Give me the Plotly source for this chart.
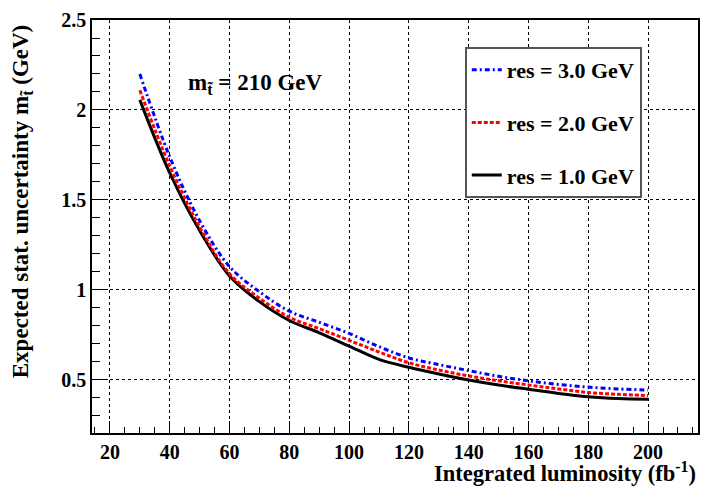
import plotly.graph_objects as go

lumi = [30, 40, 50, 60, 70, 80, 90, 100, 110, 120, 130, 140, 150, 160, 170, 180, 190, 200]
res1 = [2.056, 1.650, 1.330, 1.078, 0.935, 0.830, 0.762, 0.688, 0.614, 0.570, 0.533, 0.500, 0.472, 0.448, 0.425, 0.407, 0.397, 0.393]
res2 = [2.110, 1.690, 1.350, 1.090, 0.954, 0.848, 0.785, 0.720, 0.655, 0.595, 0.555, 0.522, 0.495, 0.472, 0.450, 0.430, 0.420, 0.413]
res3 = [2.200, 1.740, 1.385, 1.130, 0.990, 0.882, 0.820, 0.758, 0.685, 0.622, 0.585, 0.552, 0.520, 0.495, 0.475, 0.460, 0.450, 0.444]
labels = ["res = 1.0 GeV", "res = 2.0 GeV", "res = 3.0 GeV"]
xticks = [20, 40, 60, 80, 100, 120, 140, 160, 180, 200]
yticks = [0.5, 1, 1.5, 2, 2.5]
xticklabels = ["20", "40", "60", "80", "100", "120", "140", "160", "180", "200"]
yticklabels = ["0.5", "1", "1.5", "2", "2.5"]

W, H = 701, 486
L, R, T, B = 92, 1, 20, 53
PW, PH = W - L - R, H - T - B
def px(x): return (x - L) / PW
def py(y): return (H - B - y) / PH

FONT = "Liberation Serif"
fig = go.Figure()
styles = [
    dict(color="black", width=3, dash="solid"),
    dict(color="red", width=3, dash="4px,2px"),
    dict(color="blue", width=3, dash="5px,3px,2px,3px"),
]
for i, (vals, lab, st) in enumerate(zip([res1, res2, res3], labels, styles)):
    fig.add_trace(go.Scatter(x=lumi, y=vals, mode="lines", name="<b>" + lab + "</b>", line=st,
                             legendgroup=lab, legendrank=3 - i, line_shape="spline"))

fig.update_layout(
    width=W, height=H, margin=dict(l=L, r=R, t=T, b=B),
    plot_bgcolor="white", paper_bgcolor="white",
    font=dict(family=FONT, size=19, color="black"),
    showlegend=True,
    legend=dict(x=px(466), y=py(47), xanchor="left", yanchor="top",
                bgcolor="white", bordercolor="#555", borderwidth=2,
                font=dict(family=FONT, size=22, color="black"),
                tracegroupgap=21, traceorder="grouped", itemwidth=30),
)
axis_common = dict(showline=True, linecolor="black", linewidth=1.5, mirror=True,
                   showgrid=True, gridcolor="black", gridwidth=1, griddash="dot",
                   ticks="inside", tickcolor="black", zeroline=False,
                   tickfont=dict(family=FONT, size=20, color="black", weight=700))
fig.update_xaxes(range=[14, 216.7], tickvals=xticks, ticktext=["<b>%s</b>" % t for t in xticklabels],
                 ticklen=12, tickwidth=1.2, ticklabelstandoff=0,
                 minor=dict(dtick=5, tick0=0, ticks="inside", ticklen=6, tickcolor="black", showgrid=False),
                 **axis_common)
fig.update_yaxes(range=[0.205, 2.5], tickvals=yticks, ticktext=["<b>%s</b>" % t for t in yticklabels],
                 ticklen=16, tickwidth=1.2,
                 minor=dict(dtick=0.1, tick0=0, ticks="inside", ticklen=8, tickcolor="black", showgrid=False),
                 **axis_common)

fig.add_annotation(xref="paper", yref="paper", x=1.0, y=py(456), xanchor="right", yanchor="top",
                   text="<b>Integrated luminosity (fb<sup>-1</sup>)</b>", showarrow=False,
                   font=dict(family=FONT, size=22.5, color="black"))
fig.add_annotation(xref="paper", yref="paper", x=px(22), y=py(22), xanchor="center", yanchor="top",
                   textangle=-90, text="<b>Expected stat. uncertainty m<sub>t\u0303</sub> (GeV)</b>",
                   showarrow=False, font=dict(family=FONT, size=23, color="black"))
fig.add_annotation(xref="paper", yref="paper", x=px(186), y=py(84), xanchor="left", yanchor="middle",
                   text="<b>m<sub>t\u0303</sub> = 210 GeV</b>", showarrow=False,
                   font=dict(family=FONT, size=23, color="black"))

fig.write_html("out.html", config={"displayModeBar": False},
               post_script="document.body.style.margin='0';document.body.style.overflow='hidden';")
